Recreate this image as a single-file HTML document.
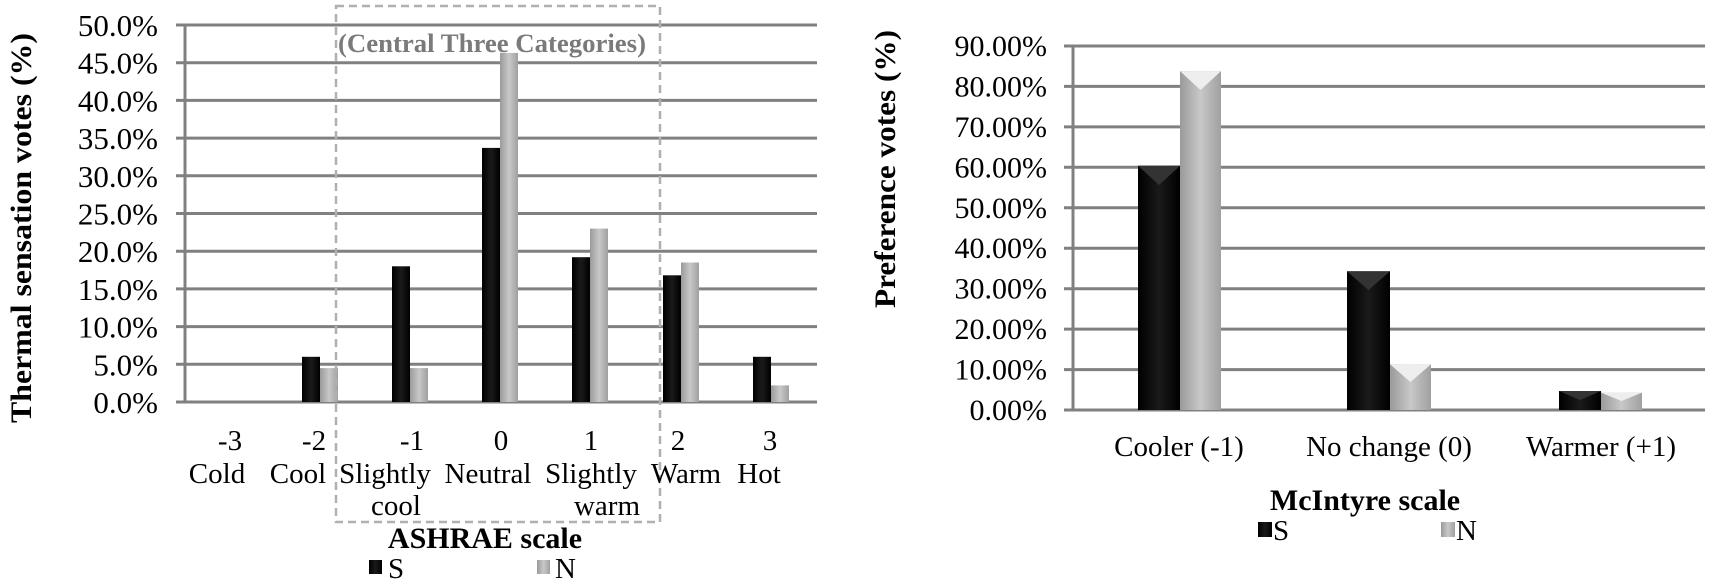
<!DOCTYPE html>
<html><head><meta charset="utf-8"><style>
html,body{margin:0;padding:0;background:#fff;}
svg{display:block;font-family:"Liberation Serif",serif;}
</style></head><body>
<svg width="1710" height="585" viewBox="0 0 1710 585" xmlns="http://www.w3.org/2000/svg" font-family="Liberation Serif, serif">
<defs>
<linearGradient id="gs" x1="0" x2="1" y1="0" y2="0"><stop offset="0" stop-color="#000"/><stop offset="0.5" stop-color="#1a1a1a"/><stop offset="1" stop-color="#000"/></linearGradient>
<linearGradient id="gn" x1="0" x2="1" y1="0" y2="0"><stop offset="0" stop-color="#9a9a9a"/><stop offset="0.5" stop-color="#c8c8c8"/><stop offset="1" stop-color="#a0a0a0"/></linearGradient>
</defs>
<g stroke="#808080" stroke-width="3">
<line x1="176" x2="817" y1="25" y2="25"/><line x1="176" x2="817" y1="62.7" y2="62.7"/><line x1="176" x2="817" y1="100.4" y2="100.4"/><line x1="176" x2="817" y1="138.1" y2="138.1"/><line x1="176" x2="817" y1="175.8" y2="175.8"/><line x1="176" x2="817" y1="213.5" y2="213.5"/><line x1="176" x2="817" y1="251.2" y2="251.2"/><line x1="176" x2="817" y1="288.9" y2="288.9"/><line x1="176" x2="817" y1="326.6" y2="326.6"/><line x1="176" x2="817" y1="364.3" y2="364.3"/><line x1="176" x2="817" y1="402" y2="402"/>
<line x1="185" x2="185" y1="25" y2="402"/>
<line x1="1064" x2="1705" y1="46" y2="46"/><line x1="1064" x2="1705" y1="86.4" y2="86.4"/><line x1="1064" x2="1705" y1="126.9" y2="126.9"/><line x1="1064" x2="1705" y1="167.3" y2="167.3"/><line x1="1064" x2="1705" y1="207.8" y2="207.8"/><line x1="1064" x2="1705" y1="248.2" y2="248.2"/><line x1="1064" x2="1705" y1="288.7" y2="288.7"/><line x1="1064" x2="1705" y1="329.1" y2="329.1"/><line x1="1064" x2="1705" y1="369.6" y2="369.6"/><line x1="1064" x2="1705" y1="410" y2="410"/>
<line x1="1073" x2="1073" y1="46" y2="410"/>
</g>
<g>
<rect x="302" y="356.8" width="18" height="45.2" fill="url(#gs)"/><rect x="320" y="368.1" width="18" height="33.9" fill="url(#gn)"/>
<rect x="392" y="266.3" width="18" height="135.7" fill="url(#gs)"/><rect x="410" y="368.1" width="18" height="33.9" fill="url(#gn)"/>
<rect x="482" y="147.9" width="18" height="254.1" fill="url(#gs)"/><rect x="500" y="52.9" width="18" height="349.1" fill="url(#gn)"/>
<rect x="572" y="257.2" width="18" height="144.8" fill="url(#gs)"/><rect x="590" y="228.6" width="18" height="173.4" fill="url(#gn)"/>
<rect x="663" y="275.3" width="18" height="126.7" fill="url(#gs)"/><rect x="681" y="262.5" width="18" height="139.5" fill="url(#gn)"/>
<rect x="753" y="356.8" width="18" height="45.2" fill="url(#gs)"/><rect x="771" y="385.4" width="18" height="16.6" fill="url(#gn)"/>
</g>
<g>
<rect x="1138" y="165.7" width="42" height="244.3" fill="url(#gs)"/><rect x="1180" y="71.1" width="41" height="338.9" fill="url(#gn)"/>
<polygon points="1138,165.7 1180,165.7 1159,185" fill="#333"/><polygon points="1180,71.1 1221,71.1 1200.5,90" fill="#eee"/>
<rect x="1347" y="271.3" width="43" height="138.7" fill="url(#gs)"/><rect x="1390" y="364.3" width="41" height="45.7" fill="url(#gn)"/>
<polygon points="1347,271.3 1390,271.3 1368.5,290" fill="#333"/><polygon points="1390,364.3 1431,364.3 1410.5,382" fill="#eee"/>
<rect x="1559" y="391" width="42" height="19" fill="url(#gs)"/><rect x="1601" y="392.6" width="41" height="17.4" fill="url(#gn)"/>
<polygon points="1559,391 1601,391 1580,400" fill="#333"/><polygon points="1601,392.6 1642,392.6 1621.5,401" fill="#eee"/>
</g>
<rect x="336" y="6" width="324" height="516" fill="none" stroke="#b0b0b0" stroke-width="2.5" stroke-dasharray="8,5"/>
<text x="492" y="52" font-size="26" font-weight="bold" fill="#7a7a7a" text-anchor="middle" textLength="308" lengthAdjust="spacingAndGlyphs">(Central Three Categories)</text>
<g font-size="31" text-anchor="end" fill="#000">
<text x="158" y="36">50.0%</text><text x="158" y="73.7">45.0%</text><text x="158" y="111.4">40.0%</text><text x="158" y="149.1">35.0%</text><text x="158" y="186.8">30.0%</text><text x="158" y="224.5">25.0%</text><text x="158" y="262.2">20.0%</text><text x="158" y="299.9">15.0%</text><text x="158" y="337.6">10.0%</text><text x="158" y="375.3">5.0%</text><text x="158" y="413">0.0%</text>
</g>
<g font-size="29" text-anchor="middle">
<text x="230" y="450">-3</text><text x="314" y="450">-2</text><text x="412" y="450">-1</text><text x="501" y="450">0</text><text x="591" y="450">1</text><text x="678" y="450">2</text><text x="770" y="450">3</text>
<text x="217" y="483">Cold</text><text x="298" y="483">Cool</text><text x="385" y="483">Slightly</text><text x="488" y="483">Neutral</text><text x="591" y="483">Slightly</text><text x="686" y="483">Warm</text><text x="759" y="483">Hot</text>
<text x="396" y="515">cool</text><text x="607" y="515">warm</text>
</g>
<text x="485" y="548" font-size="30" font-weight="bold" text-anchor="middle">ASHRAE scale</text>
<rect x="369" y="560" width="13" height="14" fill="url(#gs)"/><text x="388" y="578" font-size="29">S</text>
<rect x="537" y="560" width="13" height="14" fill="url(#gn)"/><text x="555" y="578" font-size="29">N</text>
<text transform="translate(31,228) rotate(-90)" font-size="30" font-weight="bold" text-anchor="middle" textLength="390" lengthAdjust="spacingAndGlyphs">Thermal sensation votes (%)</text>
<g font-size="30" text-anchor="end">
<text x="1047" y="56">90.00%</text><text x="1047" y="96.4">80.00%</text><text x="1047" y="136.9">70.00%</text><text x="1047" y="177.3">60.00%</text><text x="1047" y="217.8">50.00%</text><text x="1047" y="258.2">40.00%</text><text x="1047" y="298.7">30.00%</text><text x="1047" y="339.1">20.00%</text><text x="1047" y="379.6">10.00%</text><text x="1047" y="420">0.00%</text>
</g>
<g font-size="29" text-anchor="middle">
<text x="1179" y="456">Cooler (-1)</text><text x="1389" y="456">No change (0)</text><text x="1601" y="456">Warmer (+1)</text>
</g>
<text x="1365" y="510" font-size="30" font-weight="bold" text-anchor="middle">McIntyre scale</text>
<rect x="1258" y="522" width="14" height="15" fill="url(#gs)"/><text x="1273" y="540" font-size="29">S</text>
<rect x="1441" y="522" width="14" height="15" fill="url(#gn)"/><text x="1456" y="540" font-size="29">N</text>
<text transform="translate(895,169) rotate(-90)" font-size="30" font-weight="bold" text-anchor="middle" textLength="278" lengthAdjust="spacingAndGlyphs">Preference votes (%)</text>
</svg>
</body></html>
